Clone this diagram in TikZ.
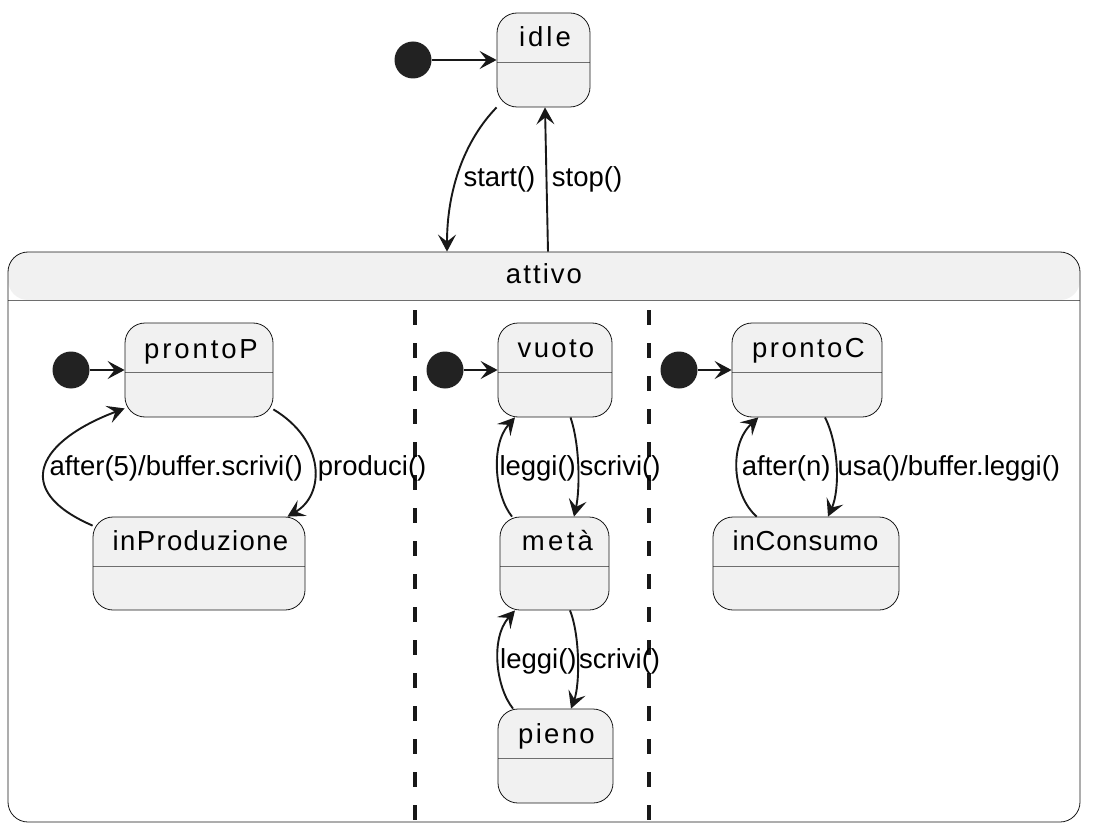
\documentclass[tikz,border=0pt]{standalone}
\usepackage{fontspec}
\setmainfont{Liberation Sans}
\newfontfamily\statefont{Liberation Sans}
\newfontfamily\labfont{Liberation Sans}
\usetikzlibrary{arrows.meta}

\definecolor{linec}{HTML}{181818}
\definecolor{boxfill}{HTML}{F1F1F1}
\definecolor{dotc}{HTML}{222222}
\definecolor{divc}{HTML}{6E6E6E}

\tikzset{
  statebox/.style={draw=linec, line width=0.8pt, fill=boxfill, rounded corners=20pt,
    inner sep=0pt, minimum height=94pt,
    path picture={\draw[divc, line width=1pt]
      ([yshift=-49.5pt]path picture bounding box.north west) --
      ([yshift=-49.5pt]path picture bounding box.north east);}},
  framebox/.style={draw=linec, line width=0.8pt, fill=white, rounded corners=20pt,
    inner sep=0pt,
    path picture={\fill[boxfill] (path picture bounding box.north west) rectangle
      ([yshift=-48pt]path picture bounding box.north east);
      \draw[divc, line width=1pt]
      ([yshift=-48pt]path picture bounding box.north west) --
      ([yshift=-48pt]path picture bounding box.north east);}},
  statename/.style={font={\fontsize{27.5}{30}\selectfont\statefont\addfontfeature{LetterSpace=#1}},
    anchor=base, inner sep=0pt, text=black},
  statename/.default=10,
  trlabel/.style={font={\fontsize{27.5}{30}\selectfont\labfont}, anchor=base west,
    inner sep=0pt, text=black},
  initdot/.style={circle, fill=dotc, minimum size=37pt, inner sep=0pt},
  trans/.style={draw=linec, line width=1.9pt,
    -{Stealth[length=17pt, width=18pt, inset=7pt]}},
  regionsep/.style={draw=linec, line width=3.4pt, dash pattern=on 15pt off 18pt},
}

\begin{document}
\begin{tikzpicture}[x=1pt, y=-1pt]
  \useasboundingbox (0,0) rectangle (1095,829);

  % top level
  \node[initdot] (i0) at (413,60) {};
  \node[statebox, minimum width=93pt] (idle) at (543.5,60) {};
  \node[statename=11] (idle-name) at (545,46.7) {idle};

  % composite state with three regions
  \node[framebox, minimum width=1072pt, minimum height=570pt] (attivo) at (544,537) {};
  \node[statename=7.5] (attivo-name) at (544,283.3) {attivo};
  \draw[regionsep] (415,310) -- (415,829);
  \draw[regionsep] (649,310) -- (649,829);

  % producer region
  \node[initdot] (iP) at (71,370) {};
  \node[statebox, minimum width=148pt] (prontoP) at (199,370) {};
  \node[statename=10.5] (prontoP-name) at (201,358) {prontoP};
  \node[statebox, minimum width=212pt, minimum height=93pt] (inProduzione) at (199,563.5) {};
  \node[statename=5] (inProduzione-name) at (200.5,550.5) {inProduzione};

  % buffer region
  \node[initdot] (iV) at (445,370) {};
  \node[statebox, minimum width=114pt] (vuoto) at (555,370) {};
  \node[statename=8.5] (vuoto-name) at (556,357.5) {vuoto};
  \node[statebox, minimum width=109pt, minimum height=93pt] (meta) at (554.5,563.5) {};
  \node[statename=12] (meta-name) at (557.5,550.5) {metà};
  \node[statebox, minimum width=115pt] (pieno) at (555.5,756) {};
  \node[statename=8.5] (pieno-name) at (556.5,743.3) {pieno};

  % consumer region
  \node[initdot] (iC) at (679,370) {};
  \node[statebox, minimum width=150pt] (prontoC) at (807,370) {};
  \node[statename=9] (prontoC-name) at (808.5,357.5) {prontoC};
  \node[statebox, minimum width=186pt, minimum height=93pt] (inConsumo) at (806,563.5) {};
  \node[statename=3] (inConsumo-name) at (805.5,550.5) {inConsumo};

  % transitions, top level
  \draw[trans] (i0) -- (idle.west);
  \draw[trans] (idle.south west) .. controls +(-32,33) and +(0,-62) .. ([xshift=-97pt]attivo.north);
  \draw[trans] ([xshift=4pt]attivo.north) -- ([xshift=1.5pt]idle.south);
  \node[trlabel] (l-start) at (463.3,186.7) {start()};
  \node[trlabel] (l-stop) at (551.7,186.7) {stop()};

  % transitions, producer
  \draw[trans] (iP) -- (prontoP.west);
  \draw[trans] ([yshift=8pt]prontoP.south east) .. controls +(52,31) and +(38,-22) .. ([xshift=-18pt]inProduzione.north east);
  \draw[trans] ([yshift=-9pt]inProduzione.north west) .. controls +(-83,-36) and +(-85,32) .. ([yshift=9pt]prontoP.south west);
  \node[trlabel] (l-after5) at (49.3,475) {after(5)/buffer.scrivi()};
  \node[trlabel] (l-produci) at (317.7,475) {produci()};

  % transitions, buffer
  \draw[trans] (iV) -- (vuoto.west);
  \draw[trans] ([xshift=15.5pt]vuoto.south) .. controls +(9.5,28) and +(6,-27) .. ([xshift=19.5pt]meta.north);
  \draw[trans] ([xshift=-42.5pt]meta.north) .. controls +(-17,-21) and +(-25,28) .. ([xshift=-40pt]vuoto.south);
  \draw[trans] ([xshift=15.5pt]meta.south) .. controls +(10,25) and +(9,-24) .. ([xshift=15.5pt]pieno.north);
  \draw[trans] ([xshift=-42.5pt]pieno.north) .. controls +(-17,-21) and +(-25,28) .. ([xshift=-39.5pt]meta.south);
  \node[trlabel] (l-leggi1) at (499.3,475) {leggi()};
  \node[trlabel] (l-scrivi1) at (579.3,475) {scrivi()};
  \node[trlabel] (l-leggi2) at (500,668.3) {leggi()};
  \node[trlabel] (l-scrivi2) at (579,668.3) {scrivi()};

  % transitions, consumer
  \draw[trans] (iC) -- (prontoC.west);
  \draw[trans] ([xshift=18pt]prontoC.south) .. controls +(14,28) and +(12,-27) .. ([xshift=22pt]inConsumo.north);
  \draw[trans] ([xshift=-49.3pt]inConsumo.north) .. controls +(-24,-21) and +(-30,28) .. ([xshift=-48.7pt]prontoC.south);
  \node[trlabel] (l-aftern) at (741.7,475) {after(n)};
  \node[trlabel] (l-usa) at (837.3,475) {usa()/buffer.leggi()};
\end{tikzpicture}
\end{document}
